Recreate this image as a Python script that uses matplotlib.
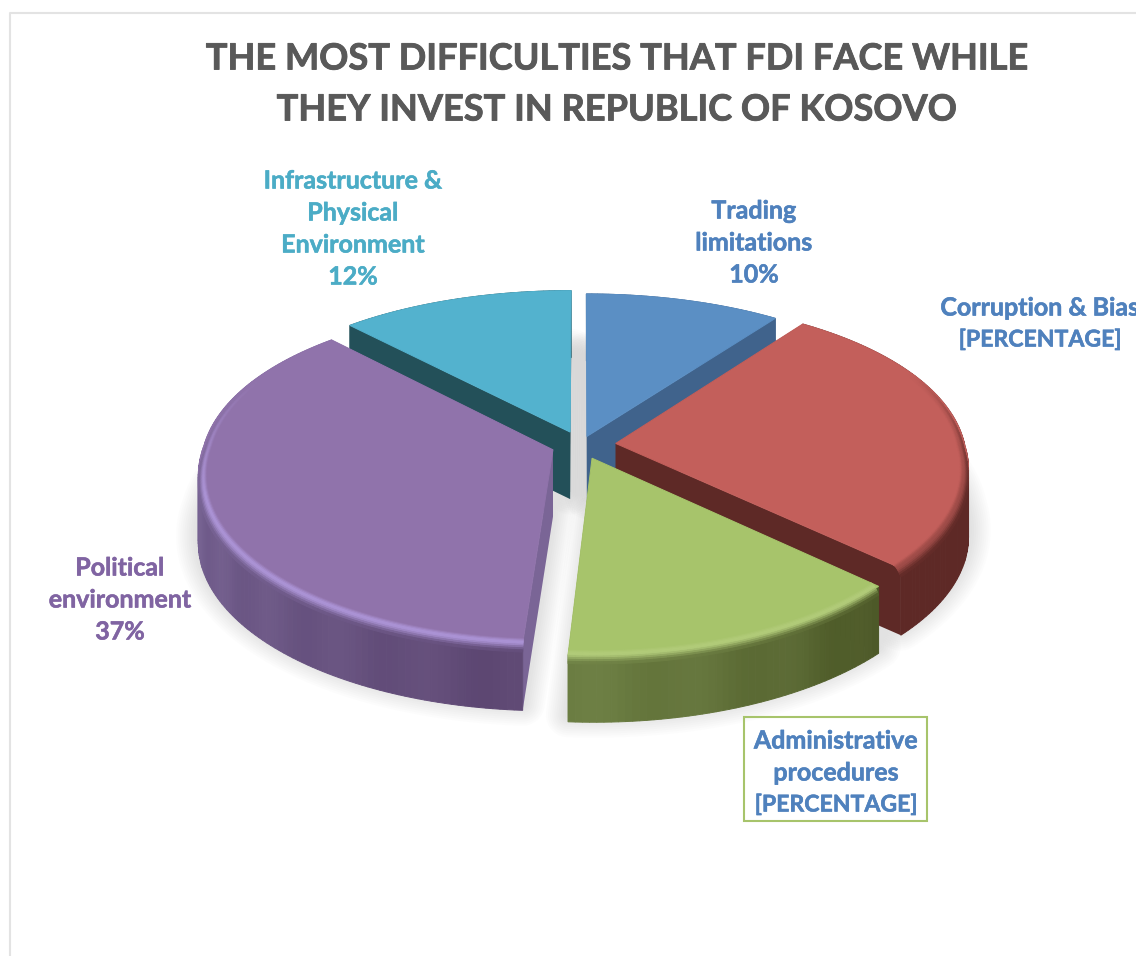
import numpy as np
import matplotlib
matplotlib.use("Agg")
import matplotlib.pyplot as plt
import matplotlib.patheffects as pe
from matplotlib.colors import to_rgb
from matplotlib.patches import Rectangle

title_lines = ["THE MOST DIFFICULTIES THAT FDI FACE WHILE",
               "THEY INVEST IN REPUBLIC OF KOSOVO"]
categories = ["Trading limitations", "Corruption & Bias", "Administrative procedures",
              "Political environment", "Infrastructure & Physical Environment"]
values = [10, 27, 14, 37, 12]
explode = [0.055, 0.10, 0.085, 0.085, 0.085]

top_colors = ["#5B8FC4", "#C35F5B", "#A7C46B", "#9073AB", "#53B2CE"]
side_colors = ["#40638C", "#5E2926", "#4B5726", "#7A6596", "#235059"]
wall_from = ["#40638C", "#5E2926", "#6B7D42", "#7F6C9E", "#235059"]
wall_to = ["#40638C", "#5E2926", "#4B5726", "#5E4873", "#235059"]
rim_colors = [None, None, "#B2CC7A", "#AC94D6", None]
draw_order = [0, 4, 1, 3, 2]

# pixel layout of the fake 3d projection
CX, CY = 581, 445
RX, RY, DEPTH = 349, 165, 67
PERSP = 0.142
PERSP_X_BACK = 0.10
BEVEL = 0.13


def project(x, y, z=0.0):
    k = 1.0 / (1.0 + PERSP * y)
    kx = 1.0 / (1.0 + np.where(y > 0, PERSP_X_BACK, PERSP) * y)
    return CX + RX * x * kx, CY - RY * y * k + DEPTH * z


def mix(a, b, t):
    a, b = np.array(to_rgb(a)), np.array(to_rgb(b))
    return tuple(a + (b - a) * t)


def smooth(t):
    return t * t * (3 - 2 * t)


def poly(ax, xs, ys, color, zorder):
    ax.fill(xs, ys, color=color, lw=0.7, zorder=zorder)


def arc(w, r=1.0):
    t = np.radians(np.arange(w.theta1, w.theta2 + 0.5, 1.0))
    t[-1] = np.radians(w.theta2)
    return w.center[0] + r * np.cos(t), w.center[1] + r * np.sin(t)


def draw_shadow(ax, w):
    ax_, ay_ = arc(w)
    x = np.r_[w.center[0], ax_]
    y = np.r_[w.center[1], ay_]
    sx, sy = project(x, y, 0.9)
    for lw in range(2, 34, 3):
        ax.fill(sx, sy, color="#808080", alpha=0.02, lw=lw, joinstyle="round", zorder=1)


def draw_wedge(ax, w, i, zorder):
    cx, cy = w.center
    ax_, ay_ = arc(w)

    # the two flat walls
    for ex, ey in [(ax_[0], ay_[0]), (ax_[-1], ay_[-1])]:
        x = np.array([cx, ex, ex, cx])
        y = np.array([cy, ey, ey, cy])
        z = np.array([0, 0, 1, 1])
        px, py = project(x, y, z)
        ax.fill(px, py, color=side_colors[i], lw=0, zorder=zorder)

    # outer wall, split in bands
    n = len(ax_)
    for j in range(n - 1):
        t = j / max(n - 2, 1)
        band = 0.012 * np.sin(j / 2.3) * (1 if i in (2, 3) else 0)
        c = mix(wall_from[i], wall_to[i], t ** 1.4)
        c = tuple(np.clip(np.array(c) + band, 0, 1))
        x = np.array([ax_[j], ax_[j + 1], ax_[j + 1], ax_[j]])
        y = np.array([ay_[j], ay_[j + 1], ay_[j + 1], ay_[j]])
        z = np.array([0, 0, 1, 1])
        px, py = project(x, y, z)
        poly(ax, px, py, c, zorder)

    # top face
    px, py = project(np.r_[cx, ax_], np.r_[cy, ay_], 0.0)
    poly(ax, px, py, top_colors[i], zorder + 0.2)

    # rounded rim, fading out towards the back of the pie
    steps = 10
    mid = rim_colors[i] if rim_colors[i] else mix(top_colors[i], side_colors[i], 0.35)
    for s in range(steps):
        f0, f1 = s / steps, (s + 1) / steps
        r0, r1 = 0.975 + 0.025 * f0, 0.975 + 0.025 * f1
        x0, y0 = arc(w, r0)
        x1, y1 = arc(w, r1)
        for j in range(n - 1):
            fade = np.clip((0.45 - (ay_[j] - cy)) / 0.7, 0, 1)
            if fade <= 0:
                continue
            t = j / max(n - 2, 1)
            wall = mix(wall_from[i], wall_to[i], t ** 1.4)
            if f0 < 0.45:
                c = mix(top_colors[i], mid, smooth(f0 / 0.45))
            else:
                c = mix(mid, wall, smooth((f0 - 0.45) / 0.55))
            c = mix(top_colors[i], c, fade)
            z0, z1 = BEVEL * f0 ** 2 * fade, BEVEL * f1 ** 2 * fade
            x = np.array([x0[j], x0[j + 1], x1[j + 1], x1[j]])
            y = np.array([y0[j], y0[j + 1], y1[j + 1], y1[j]])
            z = np.array([z0, z0, z1, z1])
            px, py = project(x, y, z)
            poly(ax, px, py, c, zorder + 0.3 + s * 0.01)


def main():
    plt.rcParams["font.family"] = ["Lato", "DejaVu Sans"]
    fig = plt.figure(figsize=(11.36, 9.56), dpi=100)
    ax = fig.add_axes([0, 0, 1, 1])

    # let pie work out the angles and the explode offsets
    wedges, _ = ax.pie(values, explode=explode, startangle=90, counterclock=False)
    for w in wedges:
        w.set_visible(False)

    ax.set_aspect("auto")
    ax.set_xlim(0, 1136)
    ax.set_ylim(956, 0)
    ax.axis("off")

    # chart frame
    ax.plot([10, 10, 1136], [956, 13, 13], color="#E3E3E3", lw=1.5, zorder=1)

    for w in wedges:
        draw_shadow(ax, w)
    for n, i in enumerate(draw_order):
        draw_wedge(ax, wedges[i], i, 3 + n)

    for line, y in zip(title_lines, [59, 110]):
        t = ax.text(616, y, line, ha="center", va="center", fontsize=26.05,
                    fontweight="bold", color="#595959")
        t.set_path_effects([pe.withStroke(linewidth=0.6, foreground="#595959")])

    blue = "#4F81BD"
    labels = [
        (["Trading", "limitations", "10%"], 754, 211, blue),
        (["Corruption & Bias", "[PERCENTAGE]"], 1040, 308, blue),
        (["Administrative", "procedures", "[PERCENTAGE]"], 836, 741, blue),
        (["Political", "environment", "37%"], 120, 568, "#8064A2"),
        (["Infrastructure &", "Physical", "Environment", "12%"], 353, 181, "#4BACC6"),
    ]
    for lines, x, y, color in labels:
        for k, line in enumerate(lines):
            size = 16.6 if line.startswith("[") else 18
            t = ax.text(x, y + 32 * k, line, ha="center", va="center", fontsize=size,
                        fontweight="bold", color=color, zorder=20)
            t.set_path_effects([pe.withStroke(linewidth=0.4, foreground=color)])

    ax.add_patch(Rectangle((743.5, 717), 183, 104, fill=False, edgecolor="#A7C46B",
                           lw=1.5, zorder=19))

    fig.savefig("out.png", dpi=100)


if __name__ == "__main__":

    main()
